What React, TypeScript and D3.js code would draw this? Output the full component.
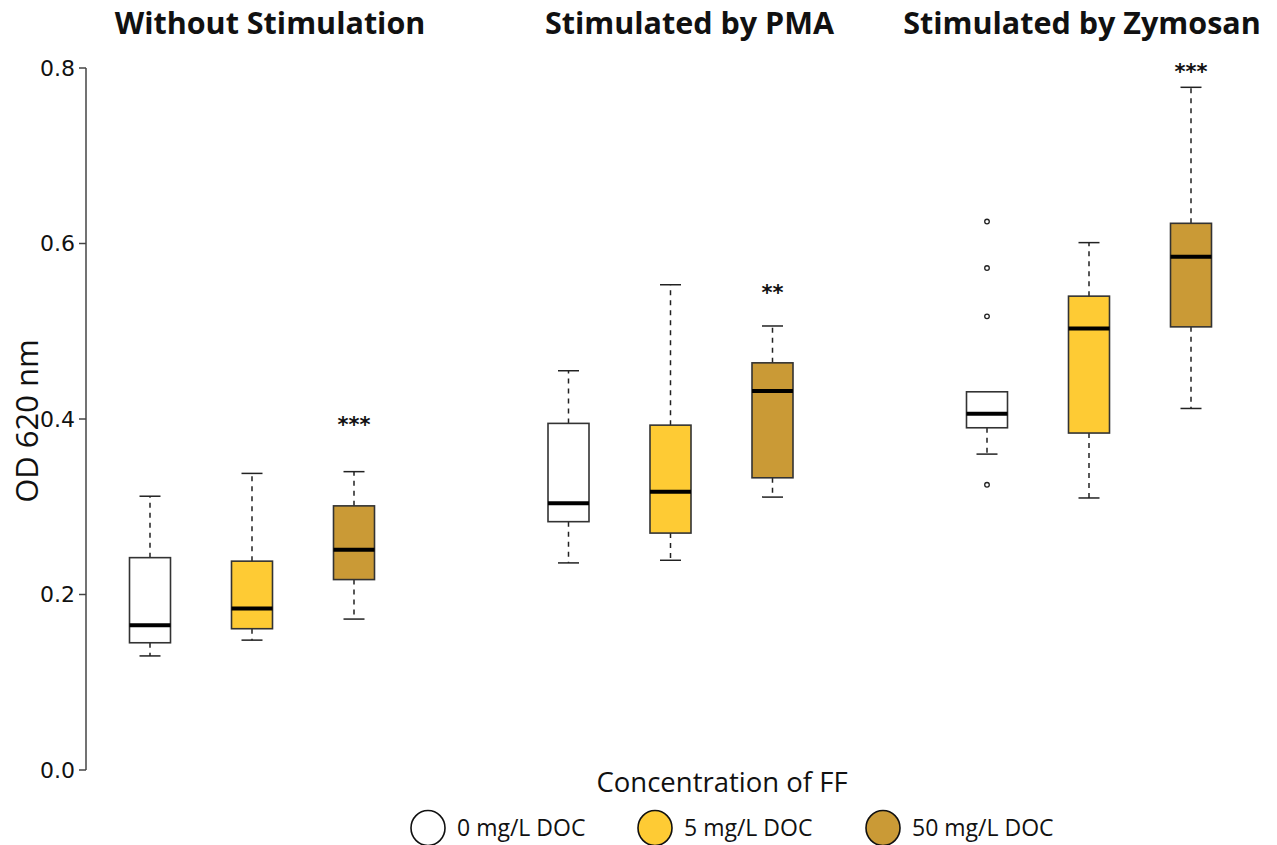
import React from "react";
import * as d3 from "d3";

// Stimulation conditions (panel titles) and FF concentrations (legend)
const groups = ["Without Stimulation", "Stimulated by PMA", "Stimulated by Zymosan"];
const concentrations = ["0 mg/L DOC", "5 mg/L DOC", "50 mg/L DOC"];
const fills = ["#FFFFFF", "#FECB34", "#CA9A36"];

// Box statistics, one row per group, one entry per concentration
const whiskerLow = [
  [0.130, 0.148, 0.172],
  [0.236, 0.239, 0.311],
  [0.360, 0.310, 0.412],
];
const q1 = [
  [0.145, 0.161, 0.217],
  [0.283, 0.270, 0.333],
  [0.390, 0.384, 0.505],
];
const medians = [
  [0.165, 0.184, 0.251],
  [0.304, 0.317, 0.432],
  [0.406, 0.503, 0.585],
];
const q3 = [
  [0.242, 0.238, 0.301],
  [0.395, 0.393, 0.464],
  [0.431, 0.540, 0.623],
];
const whiskerHigh = [
  [0.312, 0.338, 0.340],
  [0.455, 0.553, 0.506],
  [0.431, 0.601, 0.778],
];
const outliers = [
  [[], [], []],
  [[], [], []],
  [[0.625, 0.572, 0.517, 0.325], [], []],
];
// Significance marks (vs. 0 mg/L) and the level at which each is written
const significance = [
  ["", "", "***"],
  ["", "", "**"],
  ["", "", "***"],
];
const significanceLevel = [
  [0, 0, 0.385],
  [0, 0, 0.536],
  [0, 0, 0.787],
];
const yTicks = [0.0, 0.2, 0.4, 0.6, 0.8];

const W = 1277;
const H = 845;
const titleShift = [18, 19, -7];

export default function App() {
  const y = d3.scaleLinear().domain([0, 0.8]).range([770, 68]);
  const gx = d3.scalePoint<string>().domain(groups).range([252, 1089]);
  const ix = d3.scalePoint<string>().domain(concentrations).range([-102, 102]);
  const boxW = 41;
  const capW = 21;
  const stroke = "#333";

  const boxes: React.ReactNode[] = [];
  groups.forEach((g, gi) => {
    concentrations.forEach((c, ci) => {
      const cx = (gx(g) as number) + (ix(c) as number);
      const lo = whiskerLow[gi][ci];
      const hi = whiskerHigh[gi][ci];
      const a = q1[gi][ci];
      const b = q3[gi][ci];
      const m = medians[gi][ci];
      boxes.push(
        <g key={`${gi}-${ci}`}>
          {hi > b && (
            <>
              <line x1={cx} x2={cx} y1={y(b)} y2={y(hi)} stroke="#222" strokeWidth={1.5} strokeDasharray="5,5" />
              <line x1={cx - capW / 2} x2={cx + capW / 2} y1={y(hi)} y2={y(hi)} stroke="#222" strokeWidth={1.5} />
            </>
          )}
          {lo < a && (
            <>
              <line x1={cx} x2={cx} y1={y(a)} y2={y(lo)} stroke="#222" strokeWidth={1.5} strokeDasharray="5,5" />
              <line x1={cx - capW / 2} x2={cx + capW / 2} y1={y(lo)} y2={y(lo)} stroke="#222" strokeWidth={1.5} />
            </>
          )}
          <rect x={cx - boxW / 2} y={y(b)} width={boxW} height={y(a) - y(b)} fill={fills[ci]} stroke={stroke} strokeWidth={1.6} />
          <line x1={cx - boxW / 2} x2={cx + boxW / 2} y1={y(m)} y2={y(m)} stroke="#000" strokeWidth={4} />
          {outliers[gi][ci].map((o, k) => (
            <circle key={k} cx={cx} cy={y(o)} r={2.3} fill="none" stroke="#222" strokeWidth={1.3} />
          ))}
          {significance[gi][ci] && (
            <text x={cx} y={y(significanceLevel[gi][ci])} textAnchor="middle" fontFamily="DejaVu Sans"
              fontWeight="bold" fontSize={21} fill="#111">
              {significance[gi][ci]}
            </text>
          )}
        </g>
      );
    });
  });

  return (
    <svg width={W} height={H} style={{ position: "absolute", left: 0, top: 0, background: "#fff" }}>
      {/* panel titles */}
      {groups.map((g, gi) => (
        <text key={g} x={(gx(g) as number) + titleShift[gi]} y={34} textAnchor="middle"
          fontFamily="Open Sans" fontWeight="bold" fontSize={30.5} fill="#111">
          {g}
        </text>
      ))}

      {/* y axis */}
      <line x1={86} x2={86} y1={y(0)} y2={y(0.8)} stroke="#444" strokeWidth={1.5} />
      {yTicks.map((t) => (
        <g key={t}>
          <line x1={79} x2={86} y1={y(t)} y2={y(t)} stroke="#444" strokeWidth={1.5} />
          <text x={75} y={y(t)} dy="0.35em" textAnchor="end" fontFamily="DejaVu Sans" fontSize={22} fill="#111">
            {t.toFixed(1)}
          </text>
        </g>
      ))}
      <text transform={`translate(38,${y(0.4) + 2}) rotate(-90)`} textAnchor="middle"
        fontFamily="Open Sans" fontSize={31} fill="#111">
        OD 620 nm
      </text>

      {boxes}

      {/* legend */}
      <text x={722} y={792} textAnchor="middle" fontFamily="Open Sans" fontSize={27.5} fill="#111">
        Concentration of FF
      </text>
      {concentrations.map((c, ci) => {
        const lx = [428, 655, 883][ci];
        return (
          <g key={c}>
            <ellipse cx={lx} cy={828} rx={17} ry={17.5} fill={fills[ci]} stroke="#111" strokeWidth={1.6} />
            <text x={lx + 29} y={836} fontFamily="Open Sans" fontSize={23} fill="#111">
              {c}
            </text>
          </g>
        );
      })}
    </svg>
  );
}
